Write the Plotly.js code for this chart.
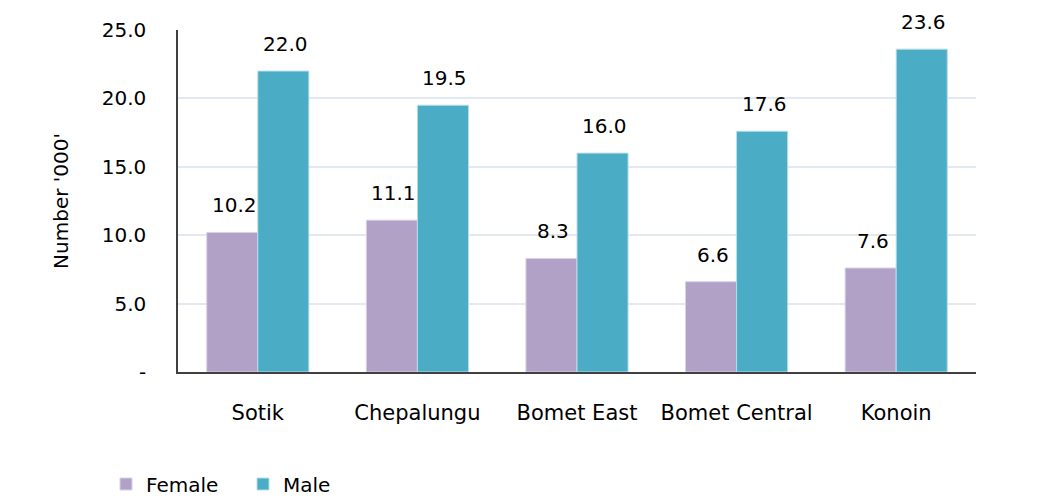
<!DOCTYPE html>
<html><head><meta charset="utf-8">
<script src="https://cdn.plot.ly/plotly-3.0.1.min.js"></script>
<style>body{margin:0;background:#fff}#chart{width:1061px;height:503px}</style>
</head><body><div id="chart"></div>
<script>
const categories = ["Sotik", "Chepalungu", "Bomet East", "Bomet Central", "Konoin"];
const female = [10.2, 11.1, 8.3, 6.6, 7.6];
const male = [22.0, 19.5, 16.0, 17.6, 23.6];
const yTickVals = [0, 5, 10, 15, 20, 25];
const yTickText = ["-", "5.0", "10.0", "15.0", "20.0", "25.0"];

const font = "'DejaVu Sans', sans-serif";
const W = 1061, H = 503, M = {l:178, r:85, t:30, b:131};
const bargap = 0.36;
const catW = (W - M.l - M.r) / categories.length;
const barW = catW * (1 - bargap) / 2;

const traces = [
  {type:"bar", name:"Female", x:categories, y:female,
   marker:{color:"#B1A1C6", line:{color:"#d9d2e6", width:1}}},
  {type:"bar", name:"Male", x:categories, y:male,
   marker:{color:"#4BACC6", line:{color:"#b8dde8", width:1}}}
];
const annotations = [];
[[female, -1], [male, 1]].forEach(([vals, side]) => {
  vals.forEach((v, i) => annotations.push({
    x: categories[i], y: v, xref:"x", yref:"y",
    text: v.toFixed(1), showarrow:false,
    xanchor:"center", yanchor:"bottom",
    xshift: side * barW / 2 + 2, yshift: 13,
    font:{size:20, color:"#000", family:font}
  }));
});
const layout = {
  width:W, height:H,
  margin:M,
  paper_bgcolor:"#fff", plot_bgcolor:"#fff",
  font:{family:font, size:20, color:"#000"},
  barmode:"group", bargap:bargap, bargroupgap:0,
  showlegend:true,
  annotations: annotations,
  legend:{orientation:"h", xref:"container", yref:"container",
          x:106/W, xanchor:"left", y:(H-484)/H, yanchor:"middle",
          font:{size:20, color:"#000", family:font}, entrywidth:92, itemwidth:30},
  xaxis:{showgrid:false, showline:true, linecolor:"#404040", linewidth:1.5,
         ticks:"", ticklabelstandoff:21, tickfont:{size:21}},
  yaxis:{range:[0,25], tickvals:yTickVals, ticktext:yTickText, showgrid:true,
         gridcolor:"#E3E9F3", gridwidth:1.5, showline:true, linecolor:"#404040", linewidth:1.5,
         ticks:"", ticklabelstandoff:26, zeroline:false, tickfont:{size:20},
         title:{text:"Number '000'", font:{size:20}, standoff:28}}
};
Plotly.newPlot("chart", traces, layout, {displayModeBar:false});
</script></body></html>
